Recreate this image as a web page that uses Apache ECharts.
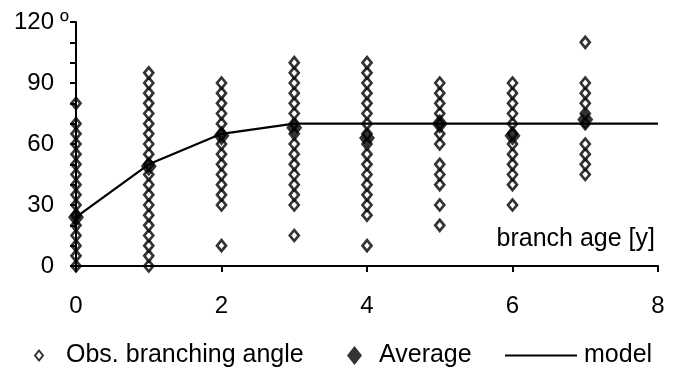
<!DOCTYPE html>
<html><head><meta charset="utf-8">
<script src="https://cdn.jsdelivr.net/npm/echarts@6/dist/echarts.min.js"></script>
<style>html,body{margin:0;padding:0;background:#fff}#c{width:678px;height:371px}</style>
</head><body><div id="c"></div>
<script>
const ages = [0,1,2,3,4,5,6,7];
const obs0 = [0,5,10,15,20,25,30,35,40,45,50,55,60,65,70,80];
const obs1 = [0,5,10,15,20,25,30,35,40,45,50,55,60,65,70,75,80,85,90,95];
const obs2 = [10,30,35,40,45,50,55,60,65,70,75,80,85,90];
const obs3 = [15,30,35,40,45,50,55,60,65,70,75,80,85,90,95,100];
const obs4 = [10,25,30,35,40,45,50,55,60,65,70,75,80,85,90,95,100];
const obs5 = [20,30,40,45,50,60,65,70,75,80,85,90];
const obs6 = [30,40,45,50,55,60,65,70,75,80,85,90];
const obs7 = [45,50,55,60,70,75,80,85,90,110];
const averages = [24,49,64,68,63,70,64,72];
const modelAges = [0,1,2,3,4,5,6,7,8];
const modelValues = [24,50,65,70,70,70,70,70,70];
const xTicks = [0,2,4,6,8];
const yTicks = [0,30,60,90,120];

const obsCols = [obs0,obs1,obs2,obs3,obs4,obs5,obs6,obs7];
const obsData = [];
obsCols.forEach((col,i)=>col.forEach(v=>obsData.push([ages[i],v])));
const avgData = ages.map((a,i)=>[a,averages[i]]);
const modelData = modelAges.map((a,i)=>[a,modelValues[i]]);

const FONT = 'Liberation Sans, Arial, sans-serif';
const FS = 24;
const chart = echarts.init(document.getElementById('c'));
chart.setOption({
  animation:false,
  backgroundColor:'#fff',
  grid:{left:76,right:20,top:22,bottom:105,containLabel:false},
  xAxis:{type:'value',min:0,max:8,interval:2,z:5,
    axisLine:{lineStyle:{color:'#000',width:2}},
    axisTick:{show:true,length:6,lineStyle:{color:'#000',width:2}},
    axisLabel:{color:'#000',fontSize:FS,fontFamily:FONT,margin:28,
      formatter:v=> xTicks.includes(v) ? String(v) : ''},
    splitLine:{show:false}},
  yAxis:{type:'value',min:0,max:120,interval:30,z:5,
    axisLine:{show:true,lineStyle:{color:'#000',width:2}},
    axisTick:{show:true,length:6,lineStyle:{color:'#000',width:2}},
    minorTick:{show:true,splitNumber:3,length:6,lineStyle:{color:'#000',width:2}},
    axisLabel:{color:'#000',fontSize:FS,fontFamily:FONT,margin:22,
      formatter:v=> yTicks.includes(v) ? String(v) : ''},
    splitLine:{show:false}},
  legend:[
    {data:[{name:'Obs. branching angle',icon:'diamond'}],left:29,top:338,itemWidth:8,itemHeight:10,
      textStyle:{color:'#000',fontSize:25,fontFamily:FONT,padding:[0,0,0,18]}},
    {data:[{name:'Average',icon:'diamond'}],left:342,top:338,itemWidth:15,itemHeight:19,
      textStyle:{color:'#000',fontSize:25,fontFamily:FONT,padding:[0,0,0,12]}},
    {data:[{name:'model',icon:'rect'}],left:500,top:338,itemWidth:72,itemHeight:2,
      textStyle:{color:'#000',fontSize:25,fontFamily:FONT,padding:[0,0,0,2]}}
  ],
  graphic:[
    {type:'text',right:23,top:227,style:{text:'branch age [y]',fill:'#000',font:'25px '+FONT}},
    {type:'text',left:60,top:10,style:{text:'º',fill:'#000',font:'24px '+FONT}}
  ],
  series:[
    {name:'Obs. branching angle',type:'scatter',data:obsData,symbol:'diamond',symbolSize:[9,11],
      itemStyle:{color:'#fff',borderColor:'#000',borderWidth:2.7},z:2},
    {name:'model',type:'line',data:modelData,symbol:'none',smooth:false,
      lineStyle:{color:'#000',width:2.2},itemStyle:{color:'#000'},z:3},
    {name:'Average',type:'scatter',data:avgData,symbol:'diamond',symbolSize:[16,20],
      itemStyle:{color:'#000'},z:4}
  ]
});
</script></body></html>
